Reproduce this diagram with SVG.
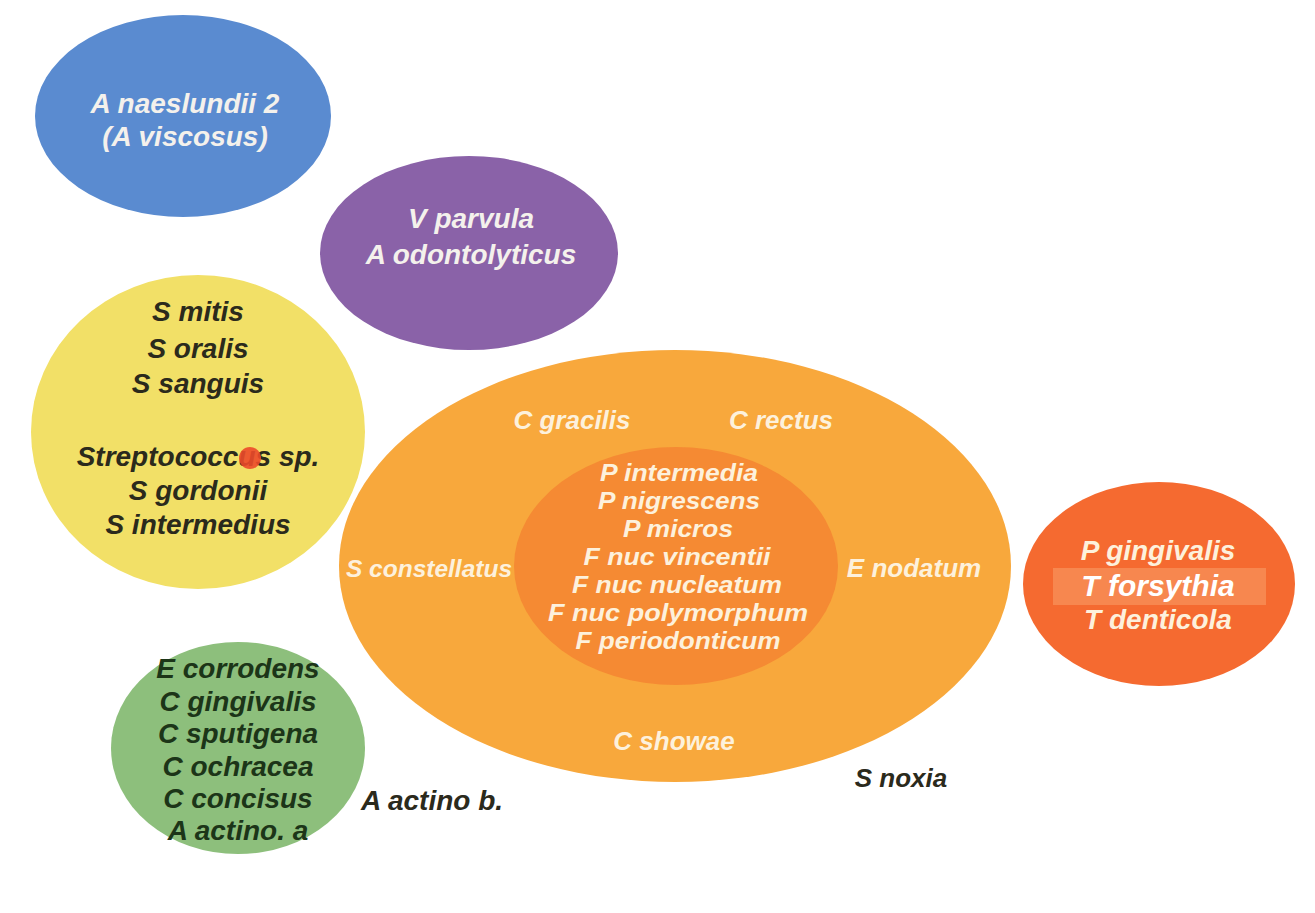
<svg xmlns="http://www.w3.org/2000/svg" width="1315" height="913" viewBox="0 0 1315 913">
<style>
text{font-family:"Liberation Sans",Arial,sans-serif;font-weight:bold;font-style:italic;text-anchor:middle;font-size:28px}
.w{fill:#f4f1ec}
.ow{fill:#fdf1dc}
.lb{font-size:26px}
.in{font-size:24px}
.d{fill:#2b2a1c}
.g{fill:#1c3518}
</style>
<rect width="1315" height="913" fill="#ffffff"/>
<g id="blue">
<ellipse cx="183" cy="116" rx="148" ry="101" fill="#5a8bd0"/>
<text class="w" x="185" y="113">A naeslundii 2</text>
<text class="w" x="185" y="146">(A viscosus)</text>
</g>
<g id="purple">
<ellipse cx="469" cy="253" rx="149" ry="97" fill="#8a62a8"/>
<text class="w" x="471" y="228">V parvula</text>
<text class="w" x="471" y="264">A odontolyticus</text>
</g>
<g id="yellow">
<ellipse cx="198" cy="432" rx="167" ry="157" fill="#f2e067"/>
<text class="d" x="198" y="321">S mitis</text>
<text class="d" x="198" y="358">S oralis</text>
<text class="d" x="198" y="393">S sanguis</text>
<text class="d" x="198" y="466">Streptococcus sp.</text>
<text class="d" x="198" y="500">S gordonii</text>
<text class="d" x="198" y="534">S intermedius</text>
<circle cx="250" cy="458" r="11" fill="#ec4a2a" opacity="0.9"/>
</g>
<g id="green">
<ellipse cx="238" cy="748" rx="127" ry="106" fill="#8dbf7c"/>
<text class="g" x="238" y="678">E corrodens</text>
<text class="g" x="238" y="711">C gingivalis</text>
<text class="g" x="238" y="743">C sputigena</text>
<text class="g" x="238" y="776">C ochracea</text>
<text class="g" x="238" y="808">C concisus</text>
<text class="g" x="238" y="840">A actino. a</text>
</g>
<g id="orange">
<ellipse cx="675" cy="566" rx="336" ry="216" fill="#f8a83c"/>
<text class="ow lb" x="572" y="429">C gracilis</text>
<text class="ow lb" x="781" y="429">C rectus</text>
<text class="ow" x="429" y="577" style="font-size:24.5px">S constellatus</text>
<text class="ow lb" x="914" y="577">E nodatum</text>
<text class="ow lb" x="674" y="750">C showae</text>
</g>
<g id="inner">
<ellipse cx="676" cy="566" rx="162" ry="119" fill="#f58a33"/>
<text class="ow in" x="679" y="481" textLength="158" lengthAdjust="spacingAndGlyphs">P intermedia</text>
<text class="ow in" x="679" y="509" textLength="162" lengthAdjust="spacingAndGlyphs">P nigrescens</text>
<text class="ow in" x="678" y="537" textLength="110" lengthAdjust="spacingAndGlyphs">P micros</text>
<text class="ow in" x="677" y="565" textLength="187" lengthAdjust="spacingAndGlyphs">F nuc vincentii</text>
<text class="ow in" x="677" y="593" textLength="210" lengthAdjust="spacingAndGlyphs">F nuc nucleatum</text>
<text class="ow in" x="678" y="621" textLength="260" lengthAdjust="spacingAndGlyphs">F nuc polymorphum</text>
<text class="ow in" x="678" y="649" textLength="205" lengthAdjust="spacingAndGlyphs">F periodonticum</text>
</g>
<g id="red">
<ellipse cx="1159" cy="584" rx="136" ry="102" fill="#f56a30"/>
<rect x="1053" y="568" width="213" height="37" fill="#f7874f"/>
<text class="ow" x="1158" y="560">P gingivalis</text>
<text x="1158" y="596" fill="#ffffff" style="font-size:30px">T forsythia</text>
<text class="ow" x="1158" y="629">T denticola</text>
</g>
<g id="labels">
<text class="d" x="432" y="810">A actino b.</text>
<text class="d lb" x="901" y="787">S noxia</text>
</g>
<g id="connectors"></g>
</svg>
